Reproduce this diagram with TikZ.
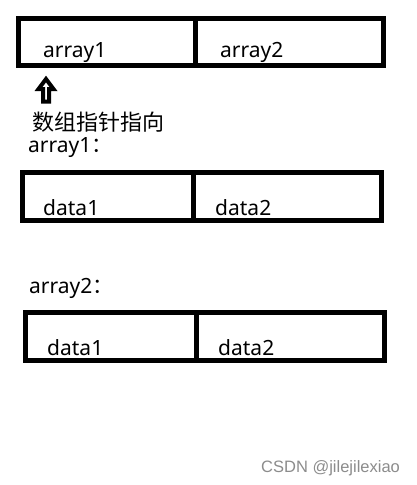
\documentclass[tikz,border=0pt]{standalone}
\usepackage{fontspec}
\setmainfont{Noto Sans}
\newfontfamily\cjk{Noto Sans CJK SC}
\newfontfamily\wm{Liberation Sans}
\begin{document}
\begin{tikzpicture}[x=1pt,y=-1pt,
  cell/.style={draw=black,line width=5pt,inner sep=0pt,outer sep=0pt,rectangle,anchor=north west},
  lbl/.style={anchor=base west,inner sep=0pt,font=\fontsize{21}{24}\selectfont},
  cjklbl/.style={anchor=base west,inner sep=0pt,font=\fontsize{22}{24}\selectfont\cjk},
  blockarrow/.style={draw=black,fill=white,line width=4pt,line join=miter}]
\useasboundingbox[fill=white] (0,0) rectangle (416,485);
% box 1
\node[cell,minimum width=177pt,minimum height=46.5pt] (a1) at (18.5,18.5) {};
\node[cell,minimum width=187.5pt,minimum height=46.5pt] (a2) at (195.5,18.5) {};
\node[lbl] (t1) at (43,57) {array1};
\node[lbl] (t2) at (220,57) {array2};
% pointer arrow
\draw[blockarrow] (46,79) -- (38.5,89) -- (43,89) -- (43,101.5) -- (49,101.5) -- (49,89) -- (53.5,89) -- cycle;
\node[cjklbl] (ptr) at (32,130) {数组指针指向};
\node[lbl] (h1) at (28,152) {array1\cjk：};
% box 2
\node[cell,minimum width=171pt,minimum height=48pt] (b1) at (22.5,172.5) {};
\node[cell,minimum width=187.5pt,minimum height=48pt] (b2) at (193.5,172.5) {};
\node[lbl] (d1) at (43,215) {data1};
\node[lbl] (d2) at (215,215) {data2};
% array2
\node[lbl] (h2) at (29,293) {array2\cjk：};
% box 3
\node[cell,minimum width=171pt,minimum height=48pt] (c1) at (25.5,312.5) {};
\node[cell,minimum width=188pt,minimum height=48pt] (c2) at (196.5,312.5) {};
\node[lbl] (e1) at (47,355) {data1};
\node[lbl] (e2) at (218,355) {data2};
% watermark
\node[anchor=base west,inner sep=0pt,text=black!45,font=\fontsize{16.5}{18}\selectfont\wm] (wmk) at (261,472) {CSDN @jilejilexiao};
\end{tikzpicture}
\end{document}
